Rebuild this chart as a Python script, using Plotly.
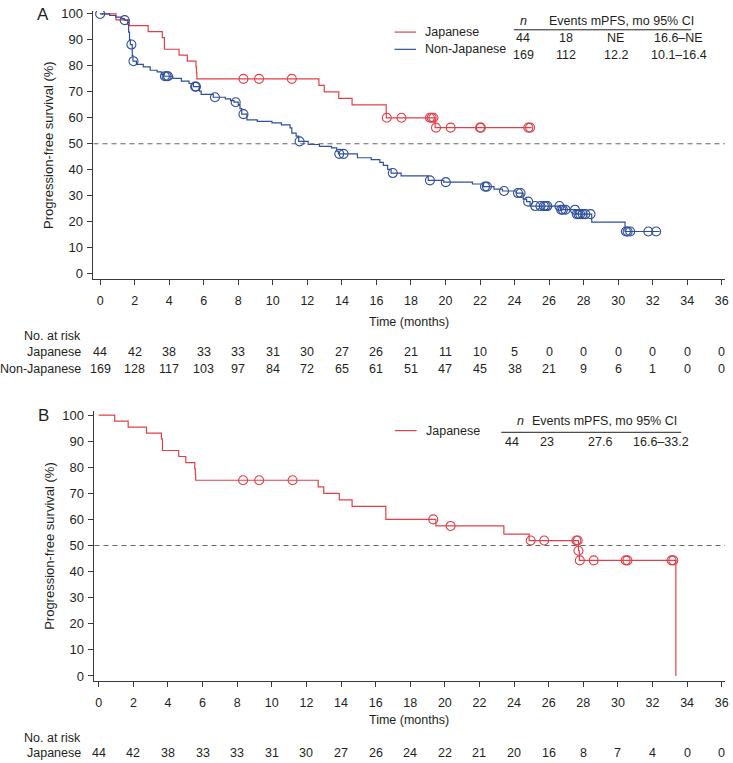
import plotly.graph_objects as go

# ---------------- data ----------------
months_ticks = list(range(0, 37, 2))

# Panel A – Japanese (step curve)
a_jp_t = [0, 0.92, 1.69, 2.78, 3.6, 3.72, 4.57, 5.05, 5.55, 5.58, 5.6, 12.67, 12.98, 13.82, 14.59, 16.57, 19.4, 25.0]
a_jp_s = [100, 97.7, 95.5, 93.2, 90.9, 86.4, 84.1, 81.8, 79.5, 77.3, 75.0, 72.5, 70.0, 67.5, 65.0, 60.0, 56.2, 56.2]
a_jp_cens_t = [8.3, 9.2, 11.1, 16.6, 17.45, 19.1, 19.2, 19.3, 19.45, 20.3, 22.0, 22.05, 24.8, 24.9]
a_jp_cens_s = [75, 75, 75, 60, 60, 60, 60, 60, 56.2, 56.2, 56.2, 56.2, 56.2, 56.2]

# Panel A – Non-Japanese
a_nj_t = [0, 0.55, 0.9, 1.25, 1.4, 1.6, 1.65, 1.7, 1.75, 1.86, 1.9, 2.1, 2.5, 2.9, 3.3, 3.55, 3.7,
          4.2, 4.7, 5.15, 5.4, 5.75, 5.85, 6.55, 7.25, 7.55, 7.75, 8.0, 8.1, 8.2, 8.5, 9.1, 9.95,
          10.5, 11.0, 11.1, 11.35, 11.5, 12.05, 12.7, 13.4, 13.7, 13.8, 14.9, 15.7, 16.2, 16.4,
          16.65, 16.85, 17.43, 19.0, 19.9, 21.56, 22.2, 22.81, 23.3, 24.1, 24.5, 24.7, 24.9,
          26.65, 27.55, 28.47, 30.4, 32.4]
a_nj_s = [100, 99.4, 98.8, 98.2, 97.6, 96.0, 93.0, 90.0, 88.2, 84.0, 81.8, 80.6, 79.6, 78.3, 77.7, 76.7, 76.0,
          75.2, 74.1, 73.2, 72.0, 70.3, 69.0, 67.9, 67.3, 66.6, 66.0, 65.0, 63.5, 61.4, 59.2, 58.6, 58.0,
          57.3, 56.1, 54.1, 52.9, 50.9, 49.7, 49.0, 48.4, 47.1, 46.1, 44.6, 43.9, 42.8, 41.7,
          40.1, 38.7, 37.6, 35.9, 35.2, 34.5, 33.5, 32.5, 31.8, 31.0, 28.7, 27.7, 26.0,
          24.6, 22.9, 19.8, 16.2, 16.2]
a_nj_cens_t = [0, 1.42, 1.81, 1.93, 3.75, 3.85, 3.93, 5.5, 5.55, 6.65, 7.85, 8.3, 11.55, 13.85, 14.1,
               16.95, 19.1, 20.02, 22.29, 22.4, 23.39, 24.2, 24.35, 24.79, 25.2, 25.5, 25.7, 25.8, 25.9,
               26.6, 26.7, 26.8, 26.95, 27.5, 27.6, 27.7, 27.8, 27.95, 28.1, 28.4,
               30.45, 30.55, 30.7, 31.75, 32.2]
a_nj_cens_s = [100, 97.6, 88.2, 81.8, 76.0, 76.0, 76.0, 72.0, 72.0, 67.9, 66.0, 61.4, 50.9, 46.1, 46.1,
               38.7, 35.9, 35.2, 33.5, 33.5, 31.8, 31.0, 31.0, 27.7, 26.0, 26.0, 26.0, 26.0, 26.0,
               26.0, 24.6, 24.6, 24.6, 24.6, 22.9, 22.9, 22.9, 22.9, 22.9, 22.9,
               16.2, 16.2, 16.2, 16.2, 16.2]

# Panel B – Japanese
b_jp_t = [0, 0.92, 1.7, 2.76, 3.62, 3.68, 4.62, 5.03, 5.55, 5.58, 5.6, 12.68, 13.0, 13.9, 14.64,
          16.59, 19.48, 23.41, 24.87, 27.72, 27.77, 33.35]
b_jp_s = [100, 97.7, 95.4, 93.1, 90.9, 86.4, 84.1, 81.8, 79.5, 77.3, 75.0, 72.5, 70.0, 67.5, 65.0,
          60.0, 57.5, 54.4, 51.9, 48.0, 44.3, 0]
b_jp_cens_t = [8.34, 9.27, 11.2, 19.33, 20.33, 24.96, 25.74, 27.6, 27.68, 27.72, 27.8, 28.6, 30.45, 30.55, 33.1, 33.2]
b_jp_cens_s = [75, 75, 75, 60, 57.5, 51.9, 51.9, 51.9, 51.9, 48.0, 44.3, 44.3, 44.3, 44.3, 44.3, 44.3]

# Numbers at risk
risk_a_jp = [44, 42, 38, 33, 33, 31, 30, 27, 26, 21, 11, 10, 5, 0, 0, 0, 0, 0, 0]
risk_a_nj = [169, 128, 117, 103, 97, 84, 72, 65, 61, 51, 47, 45, 38, 21, 9, 6, 1, 0, 0]
risk_b_jp = [44, 42, 38, 33, 33, 31, 30, 27, 26, 24, 22, 21, 20, 16, 8, 7, 4, 0, 0]

# Summary tables
table_header = "Events mPFS, mo 95% CI"
table_a_rows = [["44", "18", "NE", "16.6\u2013NE"], ["169", "112", "12.2", "10.1\u201316.4"]]
table_b_rows = [["44", "23", "27.6", "16.6\u201333.2"]]

# ---------------- styling ----------------
W, H = 733, 763
RED = "#e0404a"
BLUE = "#2f4f9a"
TXT = "#231f20"
AX = "#3a3a3a"
FONT = "Liberation Sans, Arial, sans-serif"


def px(x):
    return x / W


def py(y):
    return 1 - y / H


fig = go.Figure()

# Panel A traces
fig.add_trace(go.Scatter(x=a_jp_t, y=a_jp_s, mode="lines", line=dict(color=RED, width=1.2, shape="hv"),
                         name="Japanese", xaxis="x", yaxis="y", showlegend=False))
fig.add_trace(go.Scatter(x=a_nj_t, y=a_nj_s, mode="lines", line=dict(color=BLUE, width=1.2, shape="hv"),
                         name="Non-Japanese", xaxis="x", yaxis="y", showlegend=False))
fig.add_trace(go.Scatter(x=a_jp_cens_t, y=a_jp_cens_s, mode="markers",
                         marker=dict(symbol="circle-open", size=9, color=RED, line=dict(width=1.1)),
                         xaxis="x", yaxis="y", showlegend=False))
fig.add_trace(go.Scatter(x=a_nj_cens_t, y=a_nj_cens_s, mode="markers",
                         marker=dict(symbol="circle-open", size=9, color=BLUE, line=dict(width=1.1)),
                         xaxis="x", yaxis="y", showlegend=False))
# Panel B traces
fig.add_trace(go.Scatter(x=b_jp_t, y=b_jp_s, mode="lines", line=dict(color=RED, width=1.2, shape="hv"),
                         name="Japanese", xaxis="x2", yaxis="y2", showlegend=False))
fig.add_trace(go.Scatter(x=b_jp_cens_t, y=b_jp_cens_s, mode="markers",
                         marker=dict(symbol="circle-open", size=9, color=RED, line=dict(width=1.1)),
                         xaxis="x2", yaxis="y2", showlegend=False))

xcommon = dict(tickmode="array", tickvals=months_ticks, ticktext=[str(v) for v in months_ticks],
               showline=True, linecolor=AX, linewidth=1, ticks="outside", ticklen=5, tickcolor=AX,
               showgrid=False, zeroline=False, tickfont=dict(family=FONT, size=12.5, color=TXT),
               ticklabelstandoff=5)
ycommon = dict(tickmode="array", tickvals=list(range(0, 101, 10)),
               showline=True, linecolor=AX, linewidth=1, ticks="outside", ticklen=5, tickcolor=AX,
               showgrid=False, zeroline=False, tickfont=dict(family=FONT, size=13, color=TXT),
               ticklabelstandoff=2)

fig.update_layout(
    width=W, height=H, margin=dict(l=0, r=0, t=0, b=0),
    paper_bgcolor="white", plot_bgcolor="white", showlegend=False,
    font=dict(family=FONT, color=TXT),
    xaxis=dict(domain=[px(94), px(729)], range=[-0.386, 36.19], anchor="y", **xcommon),
    yaxis=dict(domain=[py(277.5), py(7)], range=[-2.22, 101.15], anchor="x",
               title=dict(text="Progression-free survival (%)", font=dict(family=FONT, size=13, color=TXT), standoff=4),
               **ycommon),
    xaxis2=dict(domain=[px(95), px(729)], range=[-0.247, 36.19], anchor="y2", **xcommon),
    yaxis2=dict(domain=[py(682.7), py(410)], range=[-2.05, 101.63], anchor="x2",
                title=dict(text="Progression-free survival (%)", font=dict(family=FONT, size=13, color=TXT), standoff=4),
                **ycommon),
)

shapes = []
# 50% reference lines
for xr, yr in (("x domain", "y"), ("x2 domain", "y2")):
    shapes.append(dict(type="line", xref=xr, yref=yr, x0=0, x1=1, y0=50, y1=50,
                       line=dict(color="#666", width=1.1, dash="5px,4px")))
# legend swatches
shapes.append(dict(type="line", xref="paper", yref="paper", x0=px(396.7), x1=px(418.3), y0=py(28.3), y1=py(28.3),
                   line=dict(color=RED, width=1.2)))
shapes.append(dict(type="line", xref="paper", yref="paper", x0=px(396.7), x1=px(418.3), y0=py(45.7), y1=py(45.7),
                   line=dict(color=BLUE, width=1.2)))
shapes.append(dict(type="line", xref="paper", yref="paper", x0=px(397), x1=px(419), y0=py(430), y1=py(430),
                   line=dict(color=RED, width=1.2)))
# table rules
shapes.append(dict(type="line", xref="paper", yref="paper", x0=px(516.7), x1=px(695), y0=py(26), y1=py(26),
                   line=dict(color=TXT, width=1)))
shapes.append(dict(type="line", xref="paper", yref="paper", x0=px(504), x1=px(685), y0=py(431.7), y1=py(431.7),
                   line=dict(color=TXT, width=1)))
fig.update_layout(shapes=shapes)

ann = []


def txt(x, y, s, size=12.5, xanchor="center", xref="paper", italic=False):
    ann.append(dict(x=x if xref != "paper" else px(x), y=py(y), xref=xref, yref="paper", text=s,
                    showarrow=False, xanchor=xanchor, yanchor="middle",
                    font=dict(family=FONT, size=size, color=TXT,
                              style="italic" if italic else "normal")))


# panel labels
txt(43, 10.5, "A", size=17)
txt(43.3, 414.8, "B", size=17)

# axis titles (x)
txt(411, 321, "Time (months)")
txt(411, 722, "Time (months)")

# legends
txt(425, 28.3, "Japanese", xanchor="left")
txt(425, 45.7, "Non-Japanese", xanchor="left")
txt(426, 430, "Japanese", xanchor="left")

# summary table A
txt(526, 16.7, "n", italic=True)
txt(550, 16.7, table_header, xanchor="left")
cols_a = [526, 569, 619, 682.5]
for row, yy in zip(table_a_rows, [34, 51]):
    for c, v in zip(cols_a, row):
        txt(c, yy, v)
# summary table B
txt(523, 420.7, "n", italic=True)
txt(533, 420.7, table_header, xanchor="left")
cols_b = [515, 550, 603, 665]
for row in table_b_rows:
    for c, v in zip(cols_b, row):
        txt(c, 441.7, v)

# numbers at risk
txt(83.5, 335, "No. at risk", xanchor="right")
txt(83.5, 351, "Japanese", xanchor="right")
txt(83.5, 368, "Non-Japanese", xanchor="right")
for t, v in zip(months_ticks, risk_a_jp):
    txt(t, 351, str(v), xref="x")
for t, v in zip(months_ticks, risk_a_nj):
    txt(t, 368, str(v), xref="x")

txt(83.5, 740, "No. at risk", xanchor="right")
txt(83.5, 755, "Japanese", xanchor="right")
for t, v in zip(months_ticks, risk_b_jp):
    txt(t, 755, str(v), xref="x2")

fig.update_layout(annotations=ann)
fig.write_html("out.html", config={"displayModeBar": False},
               post_script="document.body.style.margin='0';document.body.style.padding='0';document.body.style.overflow='hidden';")
